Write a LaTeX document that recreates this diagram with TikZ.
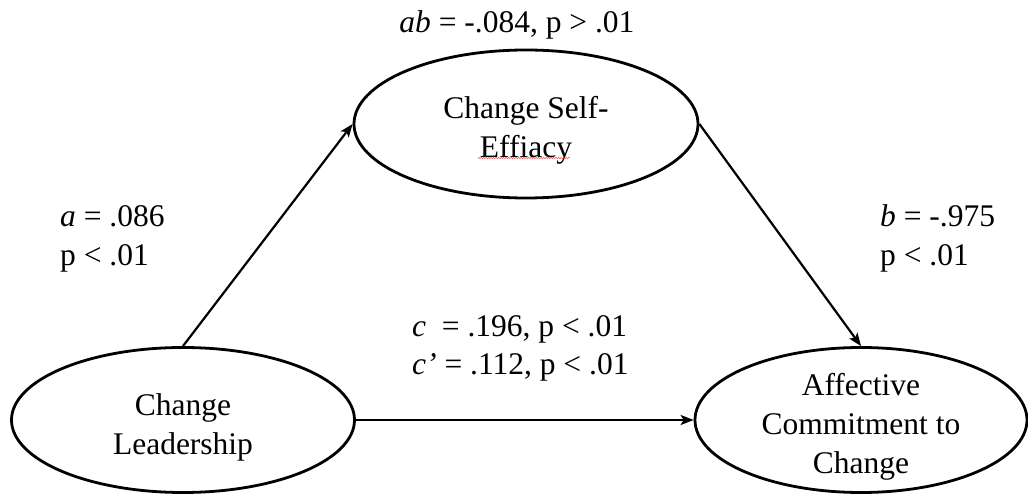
\documentclass[tikz,border=0pt]{standalone}
\usepackage{fontspec}
\setmainfont{Liberation Serif}
\usetikzlibrary{shapes.geometric,arrows.meta,decorations.pathmorphing}
\begin{document}
\begin{tikzpicture}[x=1pt,y=1pt,
  every node/.style={font=\fontsize{31.5}{39}\selectfont, inner sep=0pt},
  var/.style={ellipse, draw, line width=2.8pt},
  vtext/.style={align=center},
  lab/.style={anchor=base west},
  path/.style={line width=2.2pt, -{Stealth[length=13pt,width=10pt,inset=3pt]}}]
\useasboundingbox (0,0) rectangle (1028,495);
\node[var, minimum width=344, minimum height=148] (med) at (526,371) {};
\node[var, minimum width=343, minimum height=145] (iv) at (183,75) {};
\node[var, minimum width=332, minimum height=145] (dv) at (861,75) {};
\node[vtext] (medt) at ([yshift=-6pt]med.center) {Change Self-\\Effiacy};
\node[vtext] (ivt) at ([yshift=-7pt]iv.center) {Change\\Leadership};
\node[vtext] (dvt) at ([yshift=-7pt]dv.center) {Affective\\Commitment to\\Change};
\draw[path] (iv.north) -- (med.west);
\draw[path] (med.east) -- (dv.north);
\draw[path] (iv.east) -- (dv.west);
\node[anchor=base] (ab) at (517,462) {\textit{ab} = -.084, p > .01};
\node[lab] (a1) at (60,268) {\textit{a} = .086};
\node[lab] (a2) at (60,229) {p < .01};
\node[lab] (b1) at (880,268) {\textit{b} = -.975};
\node[lab] (b2) at (880,229) {p < .01};
\node[lab] (c1) at (412,158) {\textit{c}\ \ = .196, p < .01};
\node[lab] (c2) at (412,120) {\textit{c’} = .112, p < .01};
\coordinate (sq1) at (478,337);
\coordinate (sq2) at (570,337);
\draw[red!70, line width=0.5pt, decorate, decoration={zigzag, amplitude=0.8pt, segment length=2.5pt}] (sq1) -- (sq2);
\end{tikzpicture}
\end{document}
